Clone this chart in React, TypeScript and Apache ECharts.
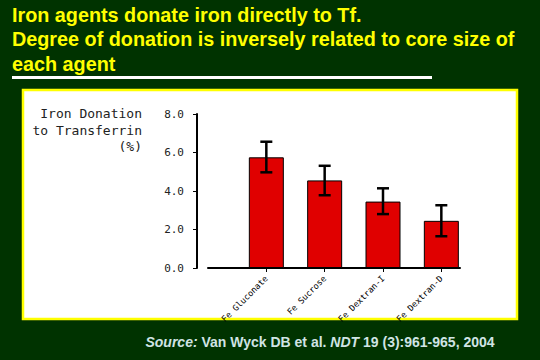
import React, { useEffect, useRef } from "react";
import * as echarts from "echarts";

const titleLines = [
  "Iron agents donate iron directly to Tf.",
  "Degree of donation is inversely related to core size of",
  "each agent",
];
const categories = ["Fe Gluconate", "Fe Sucrose", "Fe Dextran-I", "Fe Dextran-D"];
const positions = [1, 2, 3, 4];
const donation = [5.75, 4.55, 3.45, 2.45];
const errLow = [4.97, 3.78, 2.8, 1.65];
const errHigh = [6.56, 5.31, 4.14, 3.26];
const yAxisNameLines = ["Iron Donation", "to Transferrin", "(%)"];
const yMin = 0;
const yMax = 8;
const yInterval = 2;

const MONO = "'DejaVu Sans Mono', monospace";

export default function App() {
  const ref = useRef<HTMLDivElement>(null);
  useEffect(() => {
    document.body.style.margin = "0";
    const chart = echarts.init(ref.current!, null, { renderer: "svg" });
    const barData = positions.map((p, i) => [p, donation[i]]);
    const errData = positions.map((p, i) => [p, errLow[i], errHigh[i]]);
    const graphics: any[] = [
      {
        type: "rect",
        z: -10,
        shape: { x: 23, y: 90, width: 494, height: 229 },
        style: { fill: "#ffffff", stroke: "#ffff00", lineWidth: 2.5 },
      },
      {
        type: "rect",
        shape: { x: 12, y: 76, width: 420, height: 3 },
        style: { fill: "#ffffff" },
      },
    ];
    const titleY = [15, 39, 64];
    titleLines.forEach((t, i) => {
      graphics.push({
        type: "text",
        x: 12,
        y: titleY[i],
        style: {
          text: t,
          fill: "#ffff00",
          font: "bold 19.8px 'Liberation Sans', Arial, sans-serif",
          textAlign: "left",
          textVerticalAlign: "middle",
        },
      });
    });
    const nameY = [113, 130, 146];
    yAxisNameLines.forEach((t, i) => {
      graphics.push({
        type: "text",
        x: 142,
        y: nameY[i],
        style: {
          text: t,
          fill: "#222222",
          font: "13px " + MONO,
          textAlign: "right",
          textVerticalAlign: "middle",
        },
      });
    });
    graphics.push({
      type: "text",
      x: 320,
      y: 342,
      style: {
        text: "{i|Source:} Van Wyck DB et al. {i|NDT} 19 (3):961-965, 2004",
        fill: "#d0e4e4",
        font: "bold 14px 'Liberation Sans', Arial, sans-serif",
        textAlign: "center",
        textVerticalAlign: "middle",
        rich: {
          i: {
            fontStyle: "italic",
            fontWeight: "bold",
            fontSize: 14,
            fontFamily: "'Liberation Sans', Arial, sans-serif",
            fill: "#d0e4e4",
          },
        },
      },
    });

    chart.setOption({
      animation: false,
      backgroundColor: "#003300",
      graphic: graphics,
      grid: { left: 208, right: 80, top: 114, bottom: 92 },
      xAxis: {
        type: "value",
        min: 0,
        max: 4.32,
        splitLine: { show: false },
        axisLine: { show: true, onZero: false, lineStyle: { color: "#000", width: 2 } },
        axisTick: {
          show: true,
          customValues: positions,
          length: 4,
          lineStyle: { color: "#000", width: 1 },
        },
        axisLabel: {
          customValues: positions,
          rotate: 45,
          margin: 9,
          color: "#000",
          fontSize: 8.5,
          fontFamily: MONO,
          formatter: (v: number) => categories[Math.round(v) - 1] ?? "",
        },
      },
      yAxis: {
        type: "value",
        min: yMin,
        max: yMax,
        interval: yInterval,
        offset: 11,
        splitLine: { show: false },
        axisLine: { show: true, onZero: false, lineStyle: { color: "#000", width: 2 } },
        axisTick: { show: true, length: 4, lineStyle: { color: "#000", width: 1 } },
        axisLabel: {
          color: "#222",
          fontSize: 11,
          margin: 13,
          fontFamily: MONO,
          formatter: (v: number) => v.toFixed(1),
        },
      },
      series: [
        {
          type: "bar",
          data: barData,
          barWidth: 35,
          itemStyle: { color: "#e00000", borderColor: "#000", borderWidth: 1 },
        },
        {
          type: "custom",
          data: errData,
          z: 5,
          renderItem: (params: any, api: any) => {
            const x = api.value(0);
            const lo = api.coord([x, api.value(1)]);
            const hi = api.coord([x, api.value(2)]);
            const hw = 6;
            const st = { stroke: "#000", lineWidth: 2.5 };
            return {
              type: "group",
              children: [
                { type: "line", shape: { x1: lo[0], y1: lo[1], x2: hi[0], y2: hi[1] }, style: st },
                { type: "line", shape: { x1: hi[0] - hw, y1: hi[1], x2: hi[0] + hw, y2: hi[1] }, style: st },
                { type: "line", shape: { x1: lo[0] - hw, y1: lo[1], x2: lo[0] + hw, y2: lo[1] }, style: st },
              ],
            };
          },
        },
      ],
    });
    return () => chart.dispose();
  }, []);
  return (
    <div
      ref={ref}
      style={{ position: "absolute", left: 0, top: 0, width: 540, height: 360 }}
    />
  );
}
